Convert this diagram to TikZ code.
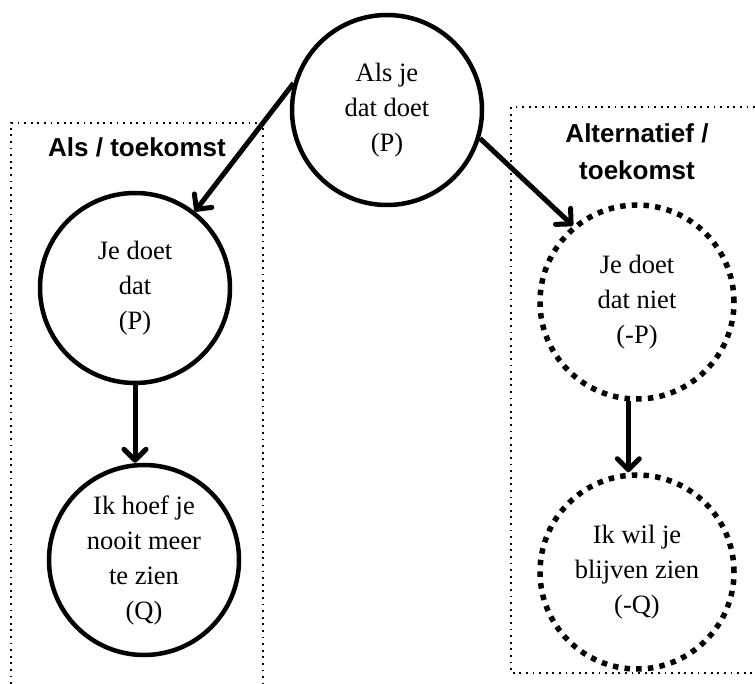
\documentclass[tikz,border=0pt]{standalone}
\usepackage{fontspec}
\setmainfont{Liberation Serif}
\newfontfamily\titlefont{Liberation Sans}
\usetikzlibrary{arrows.meta}
\begin{document}
\begin{tikzpicture}[x=1pt,y=-1pt,
  circ/.style={circle,draw,line width=4.5pt,minimum size=190pt,inner sep=0pt,align=center,font=\fontsize{26.5}{35}\selectfont},
  dotcirc/.style={circ,line width=5.5pt,dash pattern=on 5.5pt off 6.2pt,minimum size=194pt},
  box/.style={line width=1.8pt,dash pattern=on 1.8pt off 4.8pt},
  title/.style={font=\titlefont\bfseries\fontsize{26}{37}\selectfont,align=center,inner sep=0pt},
  arr/.style={line width=5pt,-{Straight Barb[length=11pt,width=22pt,round]}}]
\useasboundingbox (0,0) rectangle (755,684);
% dotted boxes
\coordinate (lb1) at (11,684);
\coordinate (lb2) at (11,123);
\coordinate (lb3) at (263,123);
\coordinate (lb4) at (263,684);
\draw[box] (lb1) -- (lb2) -- (lb3) -- (lb4);
\coordinate (rb1) at (755,107);
\coordinate (rb2) at (511,107);
\coordinate (rb3) at (511,673);
\coordinate (rb4) at (755,673);
\draw[box] (rb1) -- (rb2) -- (rb3) -- (rb4);
% titles
\node[title] (t1) at (137,147) {Als / toekomst};
\node[title] (t2) at (637,152) {Alternatief /\\toekomst};
% circles
\node[circ] (top) at (387,110) {Als je\\dat doet\\(P)};
\node[circ] (c1) at (135,288) {Je doet\\dat\\(P)};
\node[circ] (c2) at (144,560) {Ik hoef je\\nooit meer\\te zien\\(Q)};
\node[dotcirc] (r1) at (637,302) {Je doet\\dat niet\\(-P)};
\node[dotcirc] (r2) at (637,572) {Ik wil je\\blijven zien\\(-Q)};
% arrows
\draw[arr] (top.164) -- (c1.52);
\draw[arr] (top.-17) -- (r1.130);
\draw[arr] (c1.south) -- (c1.south |- c2.north);
\draw[arr] (r1.265) -- (r1.265 |- r2.north);
\end{tikzpicture}
\end{document}
